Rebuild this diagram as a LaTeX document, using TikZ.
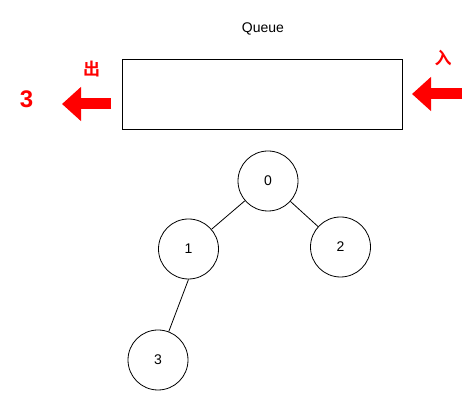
\documentclass[tikz,border=0pt]{standalone}
\usepackage{fontspec}
\setmainfont{Liberation Sans}
\newfontfamily\cjk{Noto Sans CJK SC}[BoldFont={Noto Sans CJK SC Bold}]
\usetikzlibrary{positioning,arrows.meta}

\begin{document}
\begin{tikzpicture}[
    x=1pt, y=-1pt, line width=0.8pt, font=\fontsize{14}{16}\selectfont,
    noeud/.style={draw, circle, minimum size=60pt, inner sep=0pt},
    file/.style={draw, minimum width=280pt, minimum height=70pt, inner sep=0pt},
    fleche/.style={red, line width=11pt, -{Triangle[length=19pt, width=33pt]}},
    rouge/.style={text=red, font=\cjk\bfseries\fontsize{17}{17}\selectfont},
  ]
  \useasboundingbox (0,0) rectangle (472,403);
  % --- File d'attente ---
  \node[file] (queue) at (262,94) {};
  \node (titre) at (263,29) {Queue};
  % Sortie (gauche) et entrée (droite)
  \coordinate (sortA) at (111,104);
  \coordinate (sortB) at (62,104);
  \coordinate (entA) at (462,94);
  \coordinate (entB) at (412,94);
  \draw[fleche] (sortA) -- (sortB);
  \draw[fleche] (entA) -- (entB);
  \node[rouge] (chu) at (91.5,69) {出};
  \node[rouge] (ru) at (443,58) {入};
  \node[text=red, font=\bfseries\fontsize{24}{24}\selectfont] (val) at (26.5,99) {3};
  % --- Arbre ---
  \node[noeud] (n0) at (268,181) {0};
  \node[noeud] (n1) at (188.5,249) {1};
  \node[noeud] (n2) at (340.5,247) {2};
  \node[noeud] (n3) at (158,360) {3};
  \draw (n0) -- (n1);
  \draw (n0) -- (n2);
  \draw (n1.south) -- (n3);
\end{tikzpicture}
\end{document}
